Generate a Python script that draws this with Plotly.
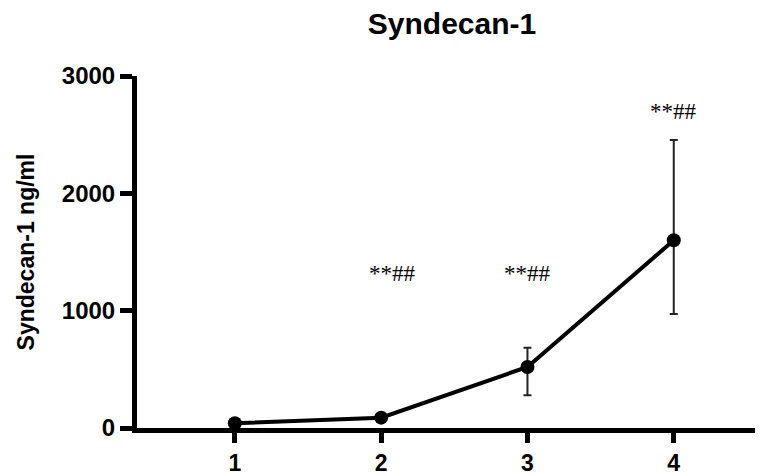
import plotly.graph_objects as go

# Time points and Syndecan-1 levels (ng/ml)
time_points = [1, 2, 3, 4]
syndecan = [40, 88, 520, 1600]
err_plus = [0, 0, 165, 855]
err_minus = [0, 0, 240, 628]

# significance labels shown above the points
sig_x = [2.075, 3, 4]
sig_y = [1320, 1320, 2700]
sig_text = ['**##', '**##', '**##']

BOLD = dict(family='Liberation Sans, Arial, sans-serif', color='black', weight='bold')

# the page puts the plot 8px in from the top-left, so the figure is 8px smaller
W, H = 755, 468

fig = go.Figure()

fig.add_trace(go.Scatter(
    x=time_points, y=syndecan, mode='lines+markers',
    line=dict(color='black', width=4),
    marker=dict(color='black', size=14),
    error_y=dict(type='data', symmetric=False, array=err_plus, arrayminus=err_minus,
                 color='#222222', thickness=2, width=4),
    cliponaxis=False, showlegend=False))

for x, y, t in zip(sig_x, sig_y, sig_text):
    fig.add_annotation(x=x, y=y, text=t, showarrow=False,
                       font=dict(family='Liberation Serif, Times New Roman, serif', size=23, color='black'))

fig.update_layout(
    width=W, height=H,
    margin=dict(l=129, r=0, t=68, b=48),
    plot_bgcolor='white', paper_bgcolor='white',
    title=dict(text='Syndecan-1', x=444 / W, xref='container', xanchor='center',
               y=1 - 5 / H, yanchor='top', font=dict(size=30, **BOLD)),
)

fig.update_xaxes(range=[0.331, 4.61], tickvals=time_points, ticks='outside', ticklen=10,
                 tickwidth=5, tickcolor='black', showline=True, linewidth=5, linecolor='black',
                 showgrid=False, zeroline=False, automargin=False, tickfont=dict(size=23, **BOLD))
fig.update_yaxes(range=[0, 3000], tickvals=[0, 1000, 2000, 3000], ticks='outside', ticklen=12,
                 tickwidth=5, tickcolor='black', showline=True, linewidth=5, linecolor='black',
                 showgrid=False, zeroline=False, automargin=False, tickfont=dict(size=24, **BOLD),
                 title=dict(text='Syndecan-1 ng/ml', font=dict(size=23, **BOLD), standoff=22))

fig.write_html('out.html')
